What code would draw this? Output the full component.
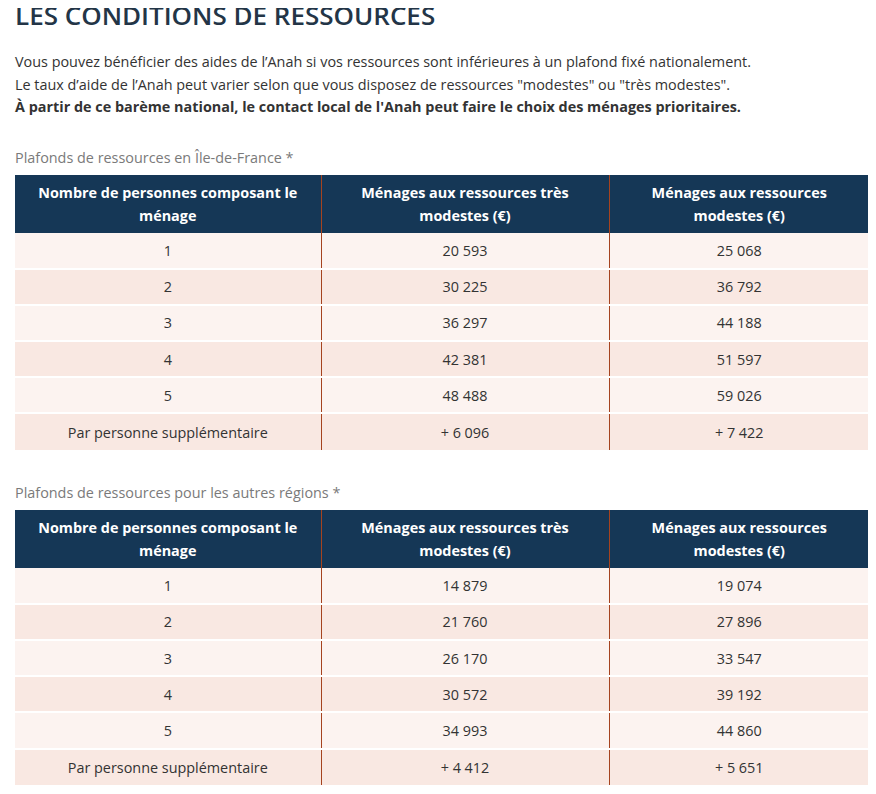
import React from 'react'

const HEADERS = [
  'Nombre de personnes composant le ménage',
  'Ménages aux ressources très modestes (€)',
  'Ménages aux ressources modestes (€)',
]

const ROW_LABELS = ['1', '2', '3', '4', '5', 'Par personne supplémentaire']

const IDF_TRES_MODESTES = ['20 593', '30 225', '36 297', '42 381', '48 488', '+ 6 096']
const IDF_MODESTES = ['25 068', '36 792', '44 188', '51 597', '59 026', '+ 7 422']

const AUTRES_TRES_MODESTES = ['14 879', '21 760', '26 170', '30 572', '34 993', '+ 4 412']
const AUTRES_MODESTES = ['19 074', '27 896', '33 547', '39 192', '44 860', '+ 5 651']

const COL_WIDTHS = [306, 288, 260]
const NAVY = '#153756'
const RUST = '#a5431f'
const ROW_A = '#fcf3f0'
const ROW_B = '#f9e8e2'
const FS = 14.4

function ResourceTable({ caption, veryModest, modest }: { caption: string, veryModest: string[], modest: string[] }) {
  return (
    <div>
      <div style={{ color: '#7a7a7a', fontSize: FS, height: 22, lineHeight: '22px', marginBottom: 6 }}>{caption}</div>
      <table style={{ borderCollapse: 'collapse', width: 854, tableLayout: 'fixed' }}>
        <colgroup>
          {COL_WIDTHS.map((w, i) => <col key={i} style={{ width: w }} />)}
        </colgroup>
        <thead>
          <tr style={{ background: NAVY, height: 58 }}>
            {HEADERS.map((h, i) => (
              <th
                key={i}
                style={{
                  color: '#fff',
                  fontWeight: 700,
                  fontSize: FS,
                  lineHeight: '23px',
                  padding: '0 18px',
                  borderLeft: i > 0 ? `1px solid ${RUST}` : 'none',
                  textAlign: 'center',
                }}
              >
                {h}
              </th>
            ))}
          </tr>
        </thead>
        <tbody>
          {ROW_LABELS.map((label, r) => (
            <tr
              key={r}
              style={{
                background: r % 2 === 0 ? ROW_A : ROW_B,
                height: 36.2,
                borderTop: r > 0 ? '2px solid #fff' : 'none',
              }}
            >
              {[label, veryModest[r], modest[r]].map((v, c) => (
                <td
                  key={c}
                  style={{
                    textAlign: 'center',
                    fontSize: FS,
                    color: '#333',
                    padding: 0,
                    borderLeft: c > 0 ? `1px solid ${RUST}` : 'none',
                  }}
                >
                  {v}
                </td>
              ))}
            </tr>
          ))}
        </tbody>
      </table>
    </div>
  )
}

export default function App() {
  return (
    <div style={{ fontFamily: '"Open Sans", sans-serif', width: 854, paddingLeft: 7, color: '#333' }}>
      <h1 style={{ margin: '-8px 0 0 0', fontSize: 26, fontWeight: 600, color: '#233547', lineHeight: '30px', height: 30 }}>
        LES CONDITIONS DE RESSOURCES
      </h1>
      <div style={{ fontSize: FS, lineHeight: '22.5px', marginTop: 21 }}>
        <div>Vous pouvez bénéficier des aides de l’Anah si vos ressources sont inférieures à un plafond fixé nationalement.</div>
        <div>Le taux d’aide de l’Anah peut varier selon que vous disposez de ressources "modestes" ou "très modestes".</div>
        <div style={{ fontWeight: 700 }}>À partir de ce barème national, le contact local de l'Anah peut faire le choix des ménages prioritaires.</div>
      </div>
      <div style={{ marginTop: 28 }}>
        <ResourceTable caption="Plafonds de ressources en Île-de-France *" veryModest={IDF_TRES_MODESTES} modest={IDF_MODESTES} />
      </div>
      <div style={{ marginTop: 32 }}>
        <ResourceTable caption="Plafonds de ressources pour les autres régions *" veryModest={AUTRES_TRES_MODESTES} modest={AUTRES_MODESTES} />
      </div>
    </div>
  )
}
